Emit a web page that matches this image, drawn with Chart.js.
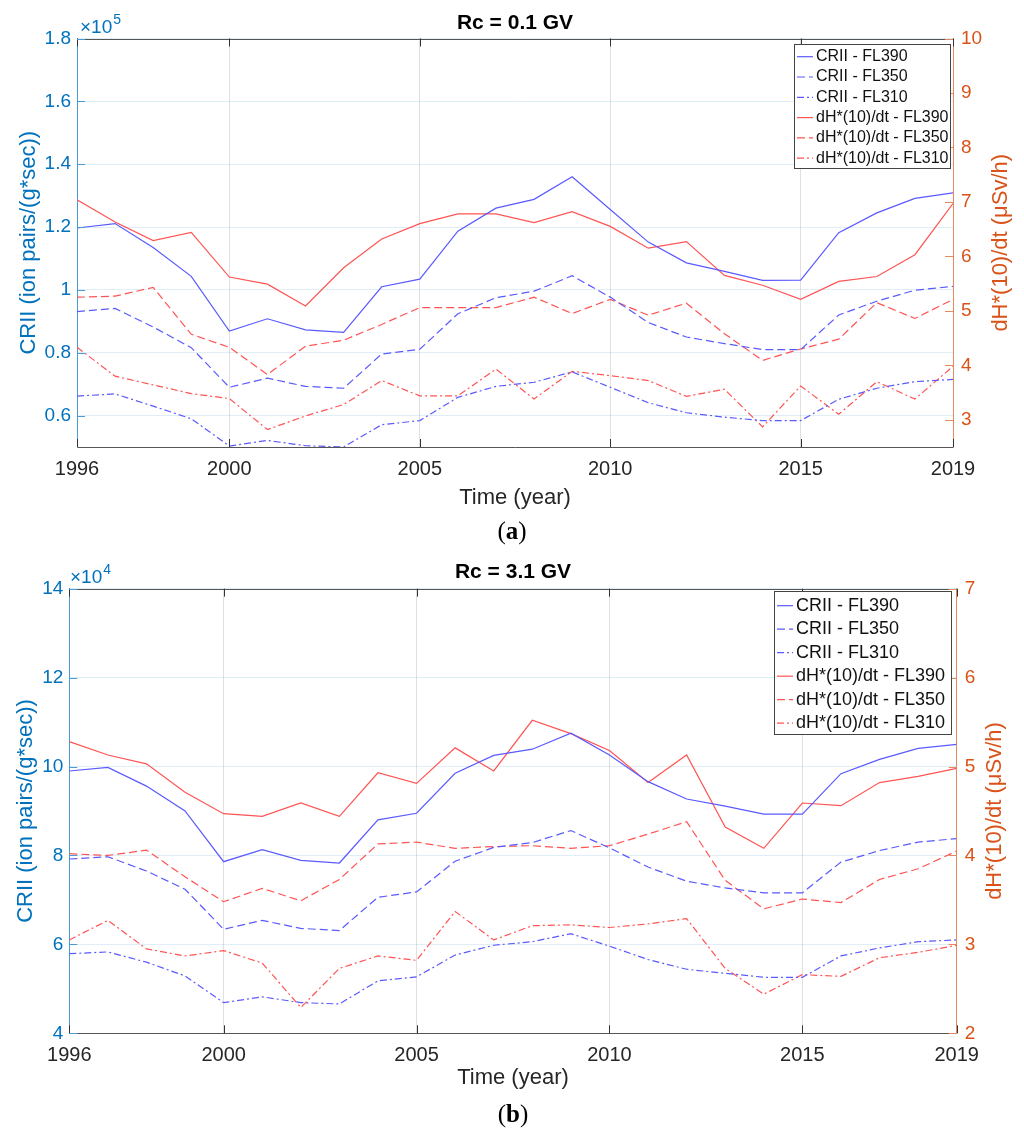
<!DOCTYPE html>
<html><head><meta charset="utf-8">
<script src="https://cdn.jsdelivr.net/npm/chart.js@4.4.0/dist/chart.umd.min.js"></script>
<style>
html,body{margin:0;padding:0;background:#fff;width:1024px;height:1128px;overflow:hidden}
.wrap{position:absolute;left:0;width:1024px}
#wa{top:0;height:560px}
#wb{top:560px;height:568px}
canvas{display:block}
</style></head><body>
<div class="wrap" id="wa"><canvas id="ca" width="1024" height="560"></canvas></div>
<div class="wrap" id="wb"><canvas id="cb" width="1024" height="568"></canvas></div>
<script>
// ---------- DATA ----------
const years = [1996,1997,1998,1999,2000,2001,2002,2003,2004,2005,2006,2007,2008,2009,2010,2011,2012,2013,2014,2015,2016,2017,2018,2019];
const xTicks = [1996,2000,2005,2010,2015,2019];
const seriesLabels = ['CRII - FL390','CRII - FL350','CRII - FL310','dH*(10)/dt - FL390','dH*(10)/dt - FL350','dH*(10)/dt - FL310'];

// Panel (a) Rc = 0.1 GV ; CRII in units of 1e5 ion pairs/(g*sec), dH*(10)/dt in µSv/h
const a_crii390 = [1.197,1.211,1.135,1.043,0.869,0.908,0.873,0.865,1.010,1.034,1.187,1.260,1.288,1.360,1.256,1.152,1.086,1.059,1.030,1.031,1.182,1.245,1.291,1.309];
const a_crii350 = [0.931,0.941,0.882,0.816,0.690,0.719,0.693,0.687,0.796,0.811,0.924,0.975,0.996,1.045,0.977,0.896,0.850,0.829,0.810,0.810,0.920,0.964,0.999,1.011];
const a_crii310 = [0.662,0.669,0.630,0.590,0.503,0.521,0.504,0.500,0.571,0.584,0.658,0.693,0.706,0.739,0.690,0.641,0.609,0.595,0.584,0.584,0.652,0.687,0.708,0.715];
const a_dh390 = [7.04,6.63,6.29,6.44,5.62,5.49,5.09,5.79,6.32,6.60,6.78,6.78,6.62,6.82,6.55,6.15,6.27,5.65,5.47,5.21,5.54,5.63,6.03,6.97];
const a_dh350 = [5.25,5.27,5.43,4.57,4.33,3.83,4.35,4.46,4.75,5.06,5.06,5.06,5.25,4.95,5.21,4.92,5.14,4.58,4.09,4.30,4.48,5.15,4.86,5.21];
const a_dh310 = [4.33,3.80,3.64,3.48,3.39,2.82,3.07,3.28,3.72,3.44,3.44,3.93,3.38,3.89,3.81,3.72,3.43,3.56,2.87,3.62,3.10,3.70,3.38,3.98];
const a_leftTicks = [0.6,0.8,1.0,1.2,1.4,1.6,1.8];
const a_rightTicks = [3,4,5,6,7,8,9,10];

// Panel (b) Rc = 3.1 GV ; CRII in units of 1e4 ion pairs/(g*sec)
const b_crii390 = [9.90,9.98,9.56,9.00,7.86,8.13,7.89,7.83,8.80,8.95,9.85,10.25,10.39,10.75,10.26,9.66,9.27,9.11,8.93,8.93,9.84,10.16,10.41,10.50];
const b_crii350 = [7.92,7.97,7.65,7.24,6.34,6.54,6.36,6.31,7.06,7.18,7.87,8.18,8.29,8.56,8.17,7.74,7.42,7.27,7.16,7.16,7.85,8.11,8.30,8.38];
const b_crii310 = [5.79,5.83,5.60,5.29,4.69,4.82,4.69,4.66,5.18,5.27,5.76,5.98,6.06,6.24,5.96,5.66,5.44,5.35,5.26,5.26,5.74,5.92,6.06,6.10];
const b_dh390 = [5.28,5.13,5.03,4.71,4.47,4.44,4.59,4.44,4.93,4.81,5.21,4.95,5.52,5.37,5.18,4.82,5.13,4.32,4.08,4.59,4.56,4.82,4.89,4.98];
const b_dh350 = [4.02,4.00,4.06,3.76,3.48,3.63,3.49,3.73,4.13,4.15,4.08,4.10,4.11,4.08,4.11,4.24,4.38,3.72,3.40,3.51,3.47,3.73,3.85,4.05];
const b_dh310 = [3.05,3.27,2.95,2.87,2.93,2.79,2.29,2.73,2.87,2.82,3.37,3.05,3.21,3.22,3.19,3.23,3.29,2.73,2.44,2.66,2.64,2.85,2.91,2.99];
const b_leftTicks = [4,6,8,10,12,14];
const b_rightTicks = [2,3,4,5,6,7];

// ---------- STYLE ----------
const FONT = '"Liberation Sans", Arial, Helvetica, sans-serif';
const SERIF = '"Liberation Serif", "Times New Roman", serif';
const BLUE = '#5a5aff', RED = '#ff5454';
const LBLUE = '#0072BD', LORANGE = '#D95319';
const DASH = [8,4], DASHDOT = [7,3,2,3];

function ds(label, data, color, dash, axis){
  return {label, data: data.map((v,i)=>({x:years[i], y:v})), borderColor:color, backgroundColor:color,
    borderWidth:1.2, borderDash:dash, pointRadius:0, pointHoverRadius:0, tension:0, yAxisID:axis, fill:false};
}

function ln(ctx,x1,y1,x2,y2){ctx.beginPath();ctx.moveTo(x1,y1);ctx.lineTo(x2,y2);ctx.stroke();}

const decoPlugin = {
  id:'deco',
  afterDraw(chart, args, o){
    const ctx = chart.ctx, ca = chart.chartArea;
    const xs = chart.scales.x, yl = chart.scales.y, yr = chart.scales.y1;
    ctx.save();
    ctx.setLineDash([]);
    // top box line
    ctx.strokeStyle = '#555'; ctx.lineWidth = 1;
    ln(ctx, ca.left, Math.round(ca.top)+0.5, ca.right, Math.round(ca.top)+0.5);
    // inward x ticks
    ctx.strokeStyle = '#333';
    for (const t of o.xTicks){
      const px = Math.round(xs.getPixelForValue(t))+0.5;
      ln(ctx, px, ca.bottom, px, ca.bottom-8);
      ln(ctx, px, ca.top, px, ca.top+8);
    }
    ctx.strokeStyle = '#4b9bd6';
    for (const v of o.leftTicks){ const py = Math.round(yl.getPixelForValue(v))+0.5; ln(ctx, ca.left, py, ca.left+8, py); }
    ctx.strokeStyle = '#e58a5f';
    for (const v of o.rightTicks){ const py = Math.round(yr.getPixelForValue(v))+0.5; ln(ctx, ca.right, py, ca.right-8, py); }
    // title
    const cx = (ca.left+ca.right)/2;
    ctx.fillStyle = '#000'; ctx.textAlign = 'center'; ctx.textBaseline = 'alphabetic';
    ctx.font = 'bold 21px ' + FONT;
    ctx.fillText(o.title, cx, o.titleY);
    // multiplier
    ctx.fillStyle = LBLUE; ctx.textAlign = 'left';
    ctx.font = '19px ' + FONT;
    ctx.fillText('\u00d710', o.multX, o.multY);
    const w = ctx.measureText('\u00d710').width;
    ctx.font = '14px ' + FONT;
    ctx.fillText(o.multExp, o.multX + w + 1, o.multY - 9);
    // x axis title
    ctx.fillStyle = '#262626'; ctx.textAlign = 'center';
    ctx.font = '22px ' + FONT;
    ctx.fillText('Time (year)', cx, o.xTitleY);
    // y axis titles
    const cy = (ca.top+ca.bottom)/2;
    ctx.textBaseline = 'middle';
    ctx.save(); ctx.translate(o.lTitleX, cy); ctx.rotate(-Math.PI/2);
    ctx.fillStyle = LBLUE; ctx.fillText('CRII (ion pairs/(g*sec))', 0, 0); ctx.restore();
    ctx.save(); ctx.translate(o.rTitleX, cy); ctx.rotate(-Math.PI/2);
    ctx.fillStyle = LORANGE; ctx.fillText('dH*(10)/dt (\u03bcSv/h)', 0, 0); ctx.restore();
    // legend
    const L = o.legend;
    ctx.fillStyle = '#fff'; ctx.fillRect(L.x, L.y, L.w, L.h);
    ctx.strokeStyle = '#444'; ctx.lineWidth = 1;
    ctx.strokeRect(L.x+0.5, L.y+0.5, L.w, L.h);
    chart.data.datasets.forEach((d,i)=>{
      const y = L.y0 + i*L.dy;
      ctx.setLineDash(d.borderDash||[]); ctx.strokeStyle = d.borderColor; ctx.lineWidth = 1.2;
      ln(ctx, L.x1, y, L.x2, y);
      ctx.setLineDash([]);
      ctx.fillStyle = '#111'; ctx.font = L.fs + 'px ' + FONT; ctx.textAlign = 'left'; ctx.textBaseline = 'middle';
      ctx.fillText(d.label, L.tx, y);
    });
    // panel label
    ctx.textBaseline = 'alphabetic'; ctx.fillStyle = '#000';
    ctx.font = '25px ' + SERIF;
    const p1 = ctx.measureText('(').width;
    ctx.font = 'bold 25px ' + SERIF;
    const p2 = ctx.measureText(o.panel).width;
    ctx.font = '25px ' + SERIF;
    const p3 = ctx.measureText(')').width;
    let px = o.panelX - (p1+p2+p3)/2;
    ctx.textAlign = 'left';
    ctx.fillText('(', px, o.panelY); px += p1;
    ctx.font = 'bold 25px ' + SERIF; ctx.fillText(o.panel, px, o.panelY); px += p2;
    ctx.font = '25px ' + SERIF; ctx.fillText(')', px, o.panelY);
    ctx.restore();
  }
};

function build(id, P){
  const fmt = v => String(+Number(v).toFixed(2));
  return new Chart(document.getElementById(id), {
    type:'line',
    data:{datasets:[
      ds(seriesLabels[0], P.c390, BLUE, [], 'y'),
      ds(seriesLabels[1], P.c350, BLUE, DASH, 'y'),
      ds(seriesLabels[2], P.c310, BLUE, DASHDOT, 'y'),
      ds(seriesLabels[3], P.d390, RED, [], 'y1'),
      ds(seriesLabels[4], P.d350, RED, DASH, 'y1'),
      ds(seriesLabels[5], P.d310, RED, DASHDOT, 'y1')
    ]},
    options:{
      responsive:false, animation:false, devicePixelRatio:1, events:[],
      layout:{padding:{top:P.top, left:0, right:0, bottom:0}},
      plugins:{legend:{display:false}, title:{display:false}, tooltip:{enabled:false}, deco:P.deco},
      scales:{
        x:{type:'linear', min:1996, max:2019,
          afterBuildTicks: s=>{ s.ticks = xTicks.map(v=>({value:v})); },
          afterFit: s=>{ s.height = P.xh; },
          grid:{color:'rgba(0,0,0,0.12)', drawTicks:false},
          border:{color:'#555'},
          ticks:{color:'#262626', font:{family:FONT, size:20}, padding:10, maxRotation:0, autoSkip:false, callback:v=>String(v)}},
        y:{type:'linear', position:'left', min:P.lmin, max:P.lmax,
          afterBuildTicks: s=>{ s.ticks = P.lt.map(v=>({value:v})); },
          afterFit: s=>{ s.width = P.lw; },
          grid:{color:'rgba(0,114,189,0.12)', drawTicks:false},
          border:{color:'#4b9bd6'},
          ticks:{color:LBLUE, font:{family:FONT, size:19}, padding:6, callback:fmt}},
        y1:{type:'linear', position:'right', min:P.rmin, max:P.rmax,
          afterBuildTicks: s=>{ s.ticks = P.rt.map(v=>({value:v})); },
          afterFit: s=>{ s.width = P.rw; },
          grid:{drawOnChartArea:false, drawTicks:false},
          border:{color:'#e58a5f'},
          ticks:{color:LORANGE, font:{family:FONT, size:19}, padding:8, callback:fmt}}
      }
    },
    plugins:[decoPlugin]
  });
}

build('ca', {
  c390:a_crii390, c350:a_crii350, c310:a_crii310, d390:a_dh390, d350:a_dh350, d310:a_dh310,
  lmin:0.5, lmax:1.8, rmin:2.5, rmax:10, lt:a_leftTicks, rt:a_rightTicks,
  top:38.5, lw:77, rw:71, xh:113,
  deco:{title:'Rc = 0.1 GV', titleY:29, multX:80, multY:33, multExp:'5', xTitleY:504, lTitleX:29, rTitleX:1001,
    xTicks:xTicks, leftTicks:a_leftTicks, rightTicks:a_rightTicks, panel:'a', panelX:512, panelY:539,
    legend:{x:794, y:44, w:156, h:124, y0:56.7, dy:20.3, x1:797, x2:813, tx:816, fs:16}}
});

build('cb', {
  c390:b_crii390, c350:b_crii350, c310:b_crii310, d390:b_dh390, d350:b_dh350, d310:b_dh310,
  lmin:4, lmax:14, rmin:2, rmax:7, lt:b_leftTicks, rt:b_rightTicks,
  top:28.7, lw:69.3, rw:67.3, xh:94.7,
  deco:{title:'Rc = 3.1 GV', titleY:18.3, multX:70, multY:23, multExp:'4', xTitleY:524, lTitleX:26, rTitleX:995,
    xTicks:xTicks, leftTicks:b_leftTicks, rightTicks:b_rightTicks, panel:'b', panelX:513, panelY:562,
    legend:{x:774, y:31, w:177, h:143, y0:45.7, dy:23.5, x1:777, x2:793, tx:796, fs:18}}
});
</script>
</body></html>
